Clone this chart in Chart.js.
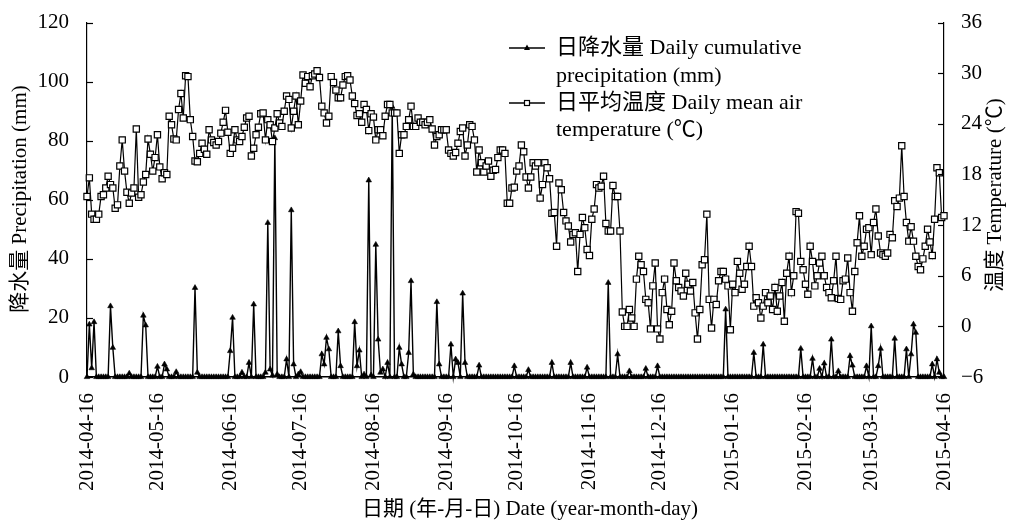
<!DOCTYPE html>
<html>
<head>
<meta charset="utf-8">
<script src="https://cdn.jsdelivr.net/npm/chart.js@4.4.0/dist/chart.umd.min.js"></script>
<style>
    html, body { margin: 0; padding: 0; background: #fff; }
</style>
</head>
<body>
<canvas id="weatherChart" width="1013" height="522"></canvas>
<script>
// First day of the record and number of daily points (2014-04-16 .. 2015-04-16)
const startDate = "2014-04-16";
const dayCount = 366;

// Dates that carry a tick label on the x axis
const tickDates = [
    "2014-04-16", "2014-05-16", "2014-06-16", "2014-07-16", "2014-08-16",
    "2014-09-16", "2014-10-16", "2014-11-16", "2014-12-16", "2015-01-16",
    "2015-02-16", "2015-03-16", "2015-04-16"
];

// Daily cumulative precipitation (mm), one value per day
const precipitation = [
    0, 17.8, 3.0, 18.6, 0, 0, 0, 0, 0, 0,
    24.0, 9.9, 0, 0, 0, 0, 0, 0, 1.2, 0,
    0, 0, 0, 0, 20.8, 17.5, 0, 0, 0, 0,
    3.5, 0, 0, 4.3, 2.6, 0, 0, 0, 1.7, 0,
    0, 0, 0, 0, 0, 0, 30.2, 1.5, 0, 0,
    0, 0, 0, 0, 0, 0, 0, 0, 0, 0,
    0, 8.8, 20.1, 0, 0, 0, 1.5, 0, 0, 4.8,
    0, 24.6, 0, 0, 0, 0, 1.5, 52.2, 2.6, 0.5,
    80.9, 0.9, 0, 0, 0, 6.0, 0, 56.5, 4.3, 0,
    0.9, 1.7, 0, 0, 0, 0, 0, 0, 0, 0,
    7.7, 4.3, 13.3, 9.4, 0, 0, 0, 15.5, 3.7, 0,
    0, 0, 0, 0, 18.6, 3.7, 9.0, 0, 0.9, 0,
    66.6, 0.6, 0, 44.8, 12.7, 1.5, 2.6, 0, 4.8, 0,
    91.5, 0, 0, 9.9, 4.3, 0, 0, 8.2, 32.5, 0.9,
    0, 0, 0, 0, 0, 0, 0, 0, 0, 25.4,
    4.3, 0, 0, 0, 0, 11.0, 0, 6.0, 4.8, 0,
    28.3, 4.8, 0, 0, 0, 0, 0, 3.9, 0, 0,
    0, 0, 0, 0, 0, 0, 0, 0, 0, 0,
    0, 0, 3.7, 0, 0, 0, 0, 0, 2.4, 0,
    0, 0, 0, 0, 0, 0, 0, 0, 4.8, 0,
    0, 0, 0, 0, 0, 0, 4.8, 0, 0, 0,
    0, 0, 0, 3.2, 0, 0, 0, 0, 0, 0,
    0, 0, 31.9, 0, 0, 0, 7.7, 0, 0, 0,
    0, 2.0, 0, 0, 0, 0, 0, 0, 2.8, 0,
    0, 0, 0, 3.7, 0, 0, 0, 0, 0, 0,
    0, 0, 0, 0, 0, 0, 0, 0, 0, 0,
    0, 0, 0, 0, 0, 0, 0, 0, 0, 0,
    0, 0, 22.9, 0, 0, 0, 0, 0, 0, 0,
    0, 0, 0, 0, 8.2, 0, 0, 0, 11.0, 0,
    0, 0, 0, 0, 0, 0, 0, 0, 0, 0,
    0, 0, 0, 0, 9.6, 0, 0, 0, 0, 6.2,
    0, 0, 2.8, 0, 4.6, 0, 0, 12.7, 0, 0,
    2.0, 0, 0, 0, 0, 7.1, 3.9, 0, 0, 0,
    0, 0, 3.7, 0, 17.2, 0, 0, 3.7, 9.6, 0,
    0, 0, 0, 0, 13.0, 0, 0, 0, 0, 9.4,
    0, 7.7, 17.8, 15.0, 0, 0, 0, 0, 0, 0,
    4.3, 0, 6.0, 1.5, 0, 0
];

// Daily mean air temperature (°C), one value per day
const temperature = [
    15.4, 17.6, 13.3, 12.7, 12.7, 13.3, 15.4, 15.6, 16.4, 17.8,
    16.8, 16.4, 14.0, 14.4, 19.0, 22.1, 18.4, 15.9, 14.6, 15.8,
    16.4, 23.4, 15.3, 15.6, 17.1, 18.0, 22.2, 20.4, 18.4, 20.0,
    22.7, 18.9, 17.5, 18.2, 18.0, 24.9, 23.9, 22.2, 22.1, 25.7,
    27.6, 24.7, 29.7, 29.6, 24.5, 22.5, 19.6, 19.5, 20.5, 21.7,
    21.0, 20.4, 23.3, 22.1, 21.8, 21.5, 21.9, 22.9, 24.2, 25.6,
    23.0, 20.5, 21.1, 23.3, 22.1, 21.9, 22.5, 23.6, 24.7, 24.9,
    20.2, 21.1, 22.7, 23.6, 25.2, 25.3, 22.1, 24.5, 23.9, 21.9,
    23.5, 25.2, 24.1, 23.7, 25.5, 27.3, 26.9, 23.5, 25.5, 27.3,
    23.9, 26.7, 29.8, 28.8, 29.6, 28.4, 29.7, 29.9, 30.3, 29.5,
    26.1, 25.3, 24.1, 24.9, 29.6, 28.9, 28.0, 27.1, 27.1, 28.6,
    29.6, 29.7, 29.2, 27.3, 26.4, 25.0, 25.2, 24.2, 26.3, 25.7,
    23.2, 25.2, 24.8, 22.1, 23.3, 23.3, 22.6, 24.9, 26.3, 26.3,
    25.3, 25.3, 25.3, 20.5, 22.7, 22.7, 23.7, 24.5, 26.1, 23.7,
    23.7, 24.7, 24.2, 24.2, 23.9, 24.2, 24.5, 23.4, 21.5, 22.5,
    22.7, 23.3, 23.3, 23.3, 20.9, 20.5, 20.2, 20.6, 21.7, 23.1,
    23.5, 20.2, 21.5, 23.9, 23.7, 22.1, 18.3, 20.9, 19.4, 18.3,
    19.0, 19.6, 17.8, 18.5, 18.6, 20.0, 20.9, 20.9, 20.5, 14.6,
    14.6, 16.4, 16.5, 18.4, 19.0, 21.5, 20.7, 17.7, 16.4, 17.7,
    19.4, 19.0, 19.4, 15.2, 16.8, 19.4, 18.8, 17.5, 13.4, 13.5,
    9.5, 17.0, 16.2, 13.5, 12.5, 11.9, 10.0, 10.9, 11.1, 6.5,
    10.9, 12.9, 11.7, 9.1, 8.4, 12.7, 13.9, 16.8, 16.4, 16.6,
    17.8, 12.2, 11.3, 11.3, 16.7, 15.4, 15.4, 11.3, 1.7, 0.0,
    0.0, 2.0, 1.0, 0.0, 5.6, 8.3, 7.3, 6.5, 3.2, 2.8,
    -0.3, 4.8, 7.5, -0.3, -1.5, 4.0, 5.6, 2.0, 0.2, 1.8,
    7.5, 5.4, 4.6, 4.2, 3.6, 6.3, 5.0, 4.2, 5.2, 1.6,
    -1.5, 2.0, 7.3, 7.9, 13.3, 3.2, -0.2, 3.2, 2.6, 5.4,
    6.5, 6.5, 5.6, 4.8, -0.4, 5.0, 4.0, 7.7, 6.3, 4.4,
    5.0, 7.1, 9.5, 7.1, 2.4, 3.4, 2.8, 1.0, 2.4, 4.0,
    2.8, 3.6, 2.0, 4.6, 1.8, 3.6, 5.2, 0.6, 6.3, 8.3,
    4.0, 6.0, 13.6, 13.4, 7.7, 6.7, 5.0, 3.8, 9.5, 7.7,
    4.8, 6.0, 7.5, 8.3, 6.0, 4.6, 4.0, 3.4, 5.4, 8.3,
    3.3, 3.2, 5.4, 5.6, 8.1, 4.0, 1.8, 6.5, 9.9, 13.1,
    8.3, 9.5, 11.5, 11.7, 8.5, 12.3, 13.9, 10.7, 8.7, 8.5,
    8.3, 8.7, 10.9, 10.5, 14.9, 14.2, 15.2, 21.4, 15.4, 12.3,
    10.1, 11.8, 10.1, 8.3, 7.1, 6.7, 8.0, 9.5, 11.5, 10.0,
    8.4, 12.7, 18.8, 18.2, 12.9, 13.1
];

const precipLabel = ["日降水量 Daily cumulative", "precipitation (mm)"];
const tempLabel = ["日平均温度 Daily mean air", "temperature (℃)"];
const xTitle = "日期 (年-月-日) Date (year-month-day)";
const leftTitle = "降水量 Precipitation (mm)";
const rightTitle = "温度 Temperature (℃)";

const serif = "'Liberation Serif', 'Times New Roman', 'Noto Sans CJK SC', serif";

// Build the daily category labels
const dates = [];
const firstDay = new Date(startDate + "T00:00:00Z").getTime();
for (let i = 0; i < dayCount; i++) {
    dates.push(new Date(firstDay + i * 86400000).toISOString().slice(0, 10));
}

// Inward tick marks, axis titles and the in-plot legend
const decorPlugin = {
    id: "decor",
    afterDraw(chart) {
        const c = chart.ctx;
        const area = chart.chartArea;
        const yL = chart.scales.y;
        const yR = chart.scales.y1;
        c.save();
        c.strokeStyle = "#000";
        c.lineWidth = 1.2;
        yL.ticks.forEach(t => {
            const py = Math.round(yL.getPixelForValue(t.value)) + 0.5;
            c.beginPath();
            c.moveTo(area.left, py);
            c.lineTo(area.left + 6, py);
            c.stroke();
        });
        yR.ticks.forEach(t => {
            const py = Math.round(yR.getPixelForValue(t.value)) + 0.5;
            c.beginPath();
            c.moveTo(area.right, py);
            c.lineTo(area.right - 6, py);
            c.stroke();
        });

        // Titles
        c.fillStyle = "#000";
        c.font = "21px " + serif;
        c.textAlign = "center";
        c.textBaseline = "middle";
        c.fillText(xTitle, 530, 509);
        c.save();
        c.translate(20, 199);
        c.rotate(-Math.PI / 2);
        c.fillText(leftTitle, 0, 0);
        c.restore();
        c.save();
        c.translate(995, 195);
        c.rotate(-Math.PI / 2);
        c.fillText(rightTitle, 0, 0);
        c.restore();

        // Legend
        const lineX0 = 509, lineX1 = 545, textX = 556;
        const rows = [48, 76, 103, 130];
        c.font = "22px " + serif;
        c.textAlign = "left";
        c.lineWidth = 1.4;
        c.beginPath();
        c.moveTo(lineX0, rows[0]);
        c.lineTo(lineX1, rows[0]);
        c.stroke();
        const mx = (lineX0 + lineX1) / 2;
        c.beginPath();
        c.moveTo(mx, rows[0] - 3.5);
        c.lineTo(mx + 3, rows[0] + 2);
        c.lineTo(mx - 3, rows[0] + 2);
        c.closePath();
        c.fill();
        c.beginPath();
        c.moveTo(lineX0, rows[2]);
        c.lineTo(lineX1, rows[2]);
        c.stroke();
        c.fillStyle = "#fff";
        c.fillRect(mx - 2.5, rows[2] - 2.5, 5, 5);
        c.lineWidth = 1.2;
        c.strokeRect(mx - 2.5, rows[2] - 2.5, 5, 5);
        c.fillStyle = "#000";
        c.fillText(precipLabel[0], textX, rows[0]);
        c.fillText(precipLabel[1], textX, rows[1]);
        c.fillText(tempLabel[0], textX, rows[2]);
        c.fillText(tempLabel[1], textX, rows[3]);
        c.restore();
    }
};

const ctx = document.getElementById("weatherChart").getContext("2d");

new Chart(ctx, {
    type: "line",
    data: {
        labels: dates,
        datasets: [
            {
                label: precipLabel.join(" "),
                data: precipitation,
                yAxisID: "y",
                borderColor: "#000",
                backgroundColor: "#000",
                borderWidth: 1.4,
                tension: 0,
                pointStyle: "triangle",
                pointRadius: 3.2,
                pointBackgroundColor: "#000",
                pointBorderColor: "#000",
                pointBorderWidth: 0.6,
                clip: false,
                order: 1
            },
            {
                label: tempLabel.join(" "),
                data: temperature,
                yAxisID: "y1",
                borderColor: "#000",
                backgroundColor: "#fff",
                borderWidth: 1.2,
                tension: 0,
                pointStyle: "rect",
                pointRadius: 4.4,
                pointBackgroundColor: "#fff",
                pointBorderColor: "#000",
                pointBorderWidth: 1.2,
                clip: false,
                order: 0
            }
        ]
    },
    options: {
        responsive: false,
        animation: false,
        devicePixelRatio: 1,
        layout: {
            padding: { top: 21, left: 0, right: 0, bottom: 0 }
        },
        plugins: {
            legend: { display: false },
            tooltip: { enabled: false }
        },
        scales: {
            x: {
                type: "category",
                offset: false,
                grid: { display: false },
                border: { display: true, color: "#000", width: 1.4 },
                ticks: {
                    autoSkip: false,
                    maxRotation: 90,
                    minRotation: 90,
                    padding: 8,
                    color: "#000",
                    font: { family: serif, size: 21 },
                    callback: function (value) {
                        const lbl = this.getLabelForValue(value);
                        return tickDates.includes(lbl) ? lbl : "";
                    }
                },
                afterFit: scale => { scale.height = 145; }
            },
            y: {
                position: "left",
                min: 0,
                max: 120,
                grid: { display: false },
                border: { display: true, color: "#000", width: 1.2 },
                ticks: {
                    stepSize: 20,
                    padding: 10,
                    color: "#000",
                    font: { family: serif, size: 21 }
                },
                afterFit: scale => { scale.width = 87; }
            },
            y1: {
                position: "right",
                min: -6,
                max: 36,
                grid: { display: false },
                border: { display: true, color: "#000", width: 1.2 },
                ticks: {
                    stepSize: 6,
                    padding: 9,
                    color: "#000",
                    font: { family: serif, size: 21 },
                    callback: v => (v < 0 ? "\u2212" + Math.abs(v) : v)
                },
                afterFit: scale => { scale.width = 69; }
            }
        }
    },
    plugins: [decorPlugin]
});
</script>
</body>
</html>
